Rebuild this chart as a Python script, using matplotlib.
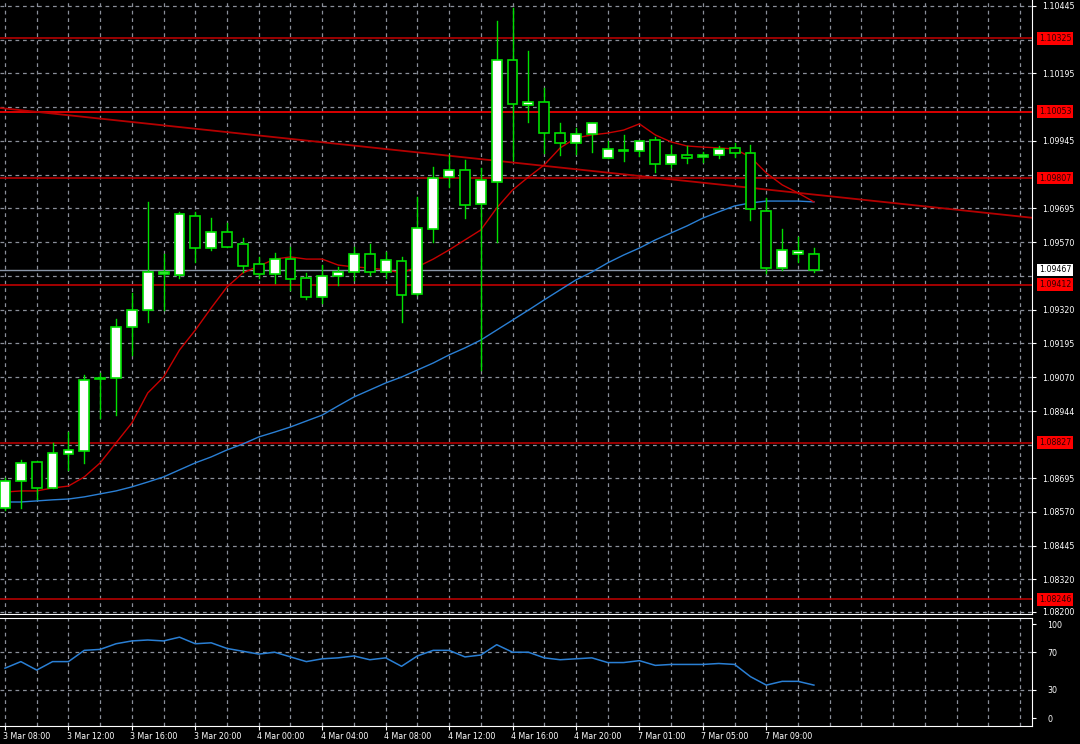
import numpy as np
import matplotlib.pyplot as plt
from matplotlib.patches import Rectangle

plt.rcParams['font.family'] = ['DejaVu Sans']
plt.rcParams['font.stretch'] = 'condensed'

# OHLC candles (hourly EURUSD-like)
opens = [1.08585, 1.08685, 1.08755, 1.08659, 1.08785, 1.08796, 1.09063, 1.09067, 1.09256, 1.09318,
         1.09452, 1.09448, 1.09667, 1.09548, 1.09607, 1.09563, 1.09489, 1.09452, 1.09507, 1.09437,
         1.09367, 1.09444, 1.09459, 1.09526, 1.09459, 1.09500, 1.09378, 1.09619, 1.09811, 1.09837,
         1.09711, 1.09793, 1.10245, 1.10078, 1.10089, 1.09974, 1.09937, 1.09971, 1.09882, 1.09908,
         1.09908, 1.09948, 1.09859, 1.09893, 1.09885, 1.09893, 1.09919, 1.09900, 1.09685, 1.09474,
         1.09526, 1.09526]
highs = [1.08696, 1.08763, 1.08755, 1.08826, 1.08866, 1.09078, 1.09085, 1.09285, 1.09381, 1.09719,
         1.09526, 1.09682, 1.09682, 1.09659, 1.09641, 1.09585, 1.09515, 1.09530, 1.09552, 1.09456,
         1.09485, 1.09478, 1.09552, 1.09563, 1.09533, 1.09515, 1.09737, 1.09848, 1.09893, 1.09874,
         1.09845, 1.10389, 1.10437, 1.10278, 1.10141, 1.10011, 1.09993, 1.10011, 1.09945, 1.09967,
         1.09945, 1.09959, 1.09930, 1.09926, 1.09904, 1.09926, 1.09937, 1.09930, 1.09733, 1.09619,
         1.09589, 1.09548]
lows = [1.08577, 1.08585, 1.08618, 1.08659, 1.08726, 1.08752, 1.08918, 1.08929, 1.09152, 1.09274,
        1.09318, 1.09437, 1.09496, 1.09541, 1.09552, 1.09459, 1.09437, 1.09418, 1.09393, 1.09359,
        1.09344, 1.09411, 1.09430, 1.09448, 1.09437, 1.09274, 1.09374, 1.09570, 1.09774, 1.09659,
        1.09096, 1.09570, 1.09874, 1.10015, 1.09900, 1.09893, 1.09896, 1.09904, 1.09882, 1.09871,
        1.09889, 1.09830, 1.09848, 1.09863, 1.09867, 1.09882, 1.09885, 1.09652, 1.09456, 1.09467,
        1.09496, 1.09459]
closes = [1.08685, 1.08752, 1.08659, 1.08789, 1.08800, 1.09059, 1.09067, 1.09256, 1.09318, 1.09459,
          1.09459, 1.09674, 1.09548, 1.09607, 1.09552, 1.09481, 1.09452, 1.09507, 1.09433, 1.09367,
          1.09444, 1.09459, 1.09526, 1.09459, 1.09504, 1.09374, 1.09622, 1.09808, 1.09837, 1.09708,
          1.09800, 1.10245, 1.10082, 1.10089, 1.09974, 1.09937, 1.09971, 1.10011, 1.09915, 1.09909,
          1.09945, 1.09859, 1.09893, 1.09882, 1.09893, 1.09915, 1.09900, 1.09693, 1.09474, 1.09541,
          1.09537, 1.09467]

ma_fast = [1.08644, 1.08648, 1.08648, 1.08659, 1.08666, 1.08700, 1.08752, 1.08826, 1.08900, 1.09011,
           1.09070, 1.09170, 1.09244, 1.09326, 1.09404, 1.09456, 1.09481, 1.09507, 1.09515, 1.09507,
           1.09507, 1.09485, 1.09478, 1.09474, 1.09467, 1.09456, 1.09478, 1.09507, 1.09541, 1.09578,
           1.09615, 1.09696, 1.09763, 1.09811, 1.09856, 1.09919, 1.09956, 1.09967, 1.09974, 1.09985,
           1.10008, 1.09967, 1.09941, 1.09926, 1.09922, 1.09919, 1.09915, 1.09885, 1.09826, 1.09782,
           1.09752, 1.09719]
ma_slow = [1.08607, 1.08607, 1.08611, 1.08615, 1.08618, 1.08626, 1.08637, 1.08648, 1.08663, 1.08681,
           1.08700, 1.08726, 1.08752, 1.08774, 1.08800, 1.08822, 1.08848, 1.08866, 1.08885, 1.08907,
           1.08929, 1.08963, 1.08996, 1.09022, 1.09048, 1.09070, 1.09096, 1.09122, 1.09152, 1.09178,
           1.09207, 1.09244, 1.09281, 1.09318, 1.09356, 1.09393, 1.09430, 1.09459, 1.09493, 1.09522,
           1.09548, 1.09578, 1.09604, 1.09630, 1.09659, 1.09682, 1.09704, 1.09715, 1.09722, 1.09722,
           1.09722, 1.09719]
rsi = [53, 60, 51, 60, 60, 72, 73, 79, 82, 83, 82, 86, 79, 80, 74, 71, 68, 70, 65, 60,
       63, 64, 66, 62, 64, 55, 66, 72, 72, 65, 67, 78, 70, 70, 64, 62, 63, 64, 59, 59,
       61, 56, 57, 57, 57, 58, 57, 44, 35, 39, 39, 35]

levels = [1.10325, 1.10053, 1.09807, 1.09412, 1.08827, 1.08246]
level_colors = ['#b40000', '#ff0000', '#b40000', '#c00000', '#b40000', '#b40000']
bid = 1.09467
trend_x = [-0.315, 64.94]
trend_y = [1.10067, 1.09659]

price_ticks = [1.10445, 1.10195, 1.09945, 1.09695, 1.09570, 1.09320, 1.09195, 1.09070,
               1.08944, 1.08695, 1.08570, 1.08445, 1.08320, 1.08200]
grid_prices = [1.10445, 1.10320, 1.10195, 1.10070, 1.09945, 1.09820, 1.09695, 1.09570, 1.09445,
               1.09320, 1.09195, 1.09070, 1.08944, 1.08820, 1.08695, 1.08570, 1.08445, 1.08320, 1.08200]
time_labels = ['3 Mar 08:00', '3 Mar 12:00', '3 Mar 16:00', '3 Mar 20:00', '4 Mar 00:00',
               '4 Mar 04:00', '4 Mar 08:00', '4 Mar 12:00', '4 Mar 16:00', '4 Mar 20:00',
               '7 Mar 01:00', '7 Mar 05:00', '7 Mar 09:00']

W, H = 1080, 744
FS = 6.3
fig = plt.figure(figsize=(W / 100, H / 100), dpi=100, facecolor='black')
ax = fig.add_axes([0, (H - 614) / H, 1032 / W, 614 / H], facecolor='black')
ax2 = fig.add_axes([0, (H - 726) / H, 1032 / W, 108 / H], facecolor='black')

xlim = (-0.315, 64.75)
grid_kw = dict(color='#8a8f99', lw=0.9, ls=(0, (3, 3)), zorder=0)
vgrid = np.arange(0, 66, 2)

# main panel
ax.set_xlim(*xlim)
ax.set_ylim(1.08192, 1.10467)
for g in grid_prices:
    ax.axhline(g, **grid_kw)
for v in vgrid:
    ax.axvline(v, **grid_kw)
    ax2.axvline(v, **grid_kw)

for lv, c in zip(levels, level_colors):
    ax.axhline(lv, color=c, lw=1.2, zorder=1)
ax.plot(trend_x, trend_y, color='#b40000', lw=1.3, zorder=1)
ax.plot([-0.315, 51.5], [bid, bid], color='#8a96a8', lw=1, zorder=1)

x = np.arange(len(opens))
ax.plot(x, ma_slow, color='#2a7fd4', lw=1.0, zorder=2)
ax.plot(x, ma_fast, color='#c80000', lw=1.0, zorder=2)

bw = 0.62
for i, (o, h, l, c) in enumerate(zip(opens, highs, lows, closes)):
    ax.plot([i, i], [l, h], color='#00e000', lw=1, zorder=3)
    up = c >= o
    ax.add_patch(Rectangle((i - bw / 2, min(o, c)), bw, max(abs(c - o), 0.00002),
                           facecolor='white' if up else 'black', edgecolor='#00e000',
                           lw=1.2, zorder=4))

ax.set_xticks([])
ax.yaxis.tick_right()
ax.set_yticks(price_ticks)
ax.set_yticklabels([f'{p:.5f}' for p in price_ticks])
ax.tick_params(axis='y', colors='white', labelcolor='white', labelsize=FS, length=3, pad=4)
for s in ['left', 'top']:
    ax.spines[s].set_visible(False)
for s in ['right', 'bottom']:
    ax.spines[s].set_color('white')

lab_kw = dict(transform=ax.get_yaxis_transform(), fontsize=FS, va='center', ha='left', zorder=10)
for lv in levels:
    ax.text(1.007, lv, f'{lv:.5f}', color='#300000',
            bbox=dict(boxstyle='square,pad=0.2', fc='#ff0000', ec='none'), clip_on=False, **lab_kw)
ax.text(1.007, bid, f'{bid:.5f}', color='black',
        bbox=dict(boxstyle='square,pad=0.2', fc='white', ec='none'), clip_on=False, **lab_kw)

# oscillator panel
ax2.set_xlim(*xlim)
ax2.set_ylim(-8.5, 106.4)
for g in [70, 30]:
    ax2.axhline(g, **grid_kw)
ax2.plot(x, rsi, color='#2a7fd4', lw=1.1)
ax2.yaxis.tick_right()
ax2.set_yticks([100, 70, 30, 0])
ax2.tick_params(axis='y', colors='white', labelcolor='white', labelsize=FS, length=3, pad=8)
ax2.set_xticks(np.arange(0, 52, 4))
ax2.set_xticklabels([])
ax2.tick_params(axis='x', colors='white', length=3)
for i, t in zip(np.arange(0, 52, 4), time_labels):
    ax2.text(i - 0.1, -0.06, t, transform=ax2.get_xaxis_transform(), color='white',
             fontsize=FS, ha='left', va='top')
for s in ['left']:
    ax2.spines[s].set_visible(False)
for s in ['right', 'bottom', 'top']:
    ax2.spines[s].set_color('white')

fig.savefig('out.png', dpi=100, facecolor='black')
